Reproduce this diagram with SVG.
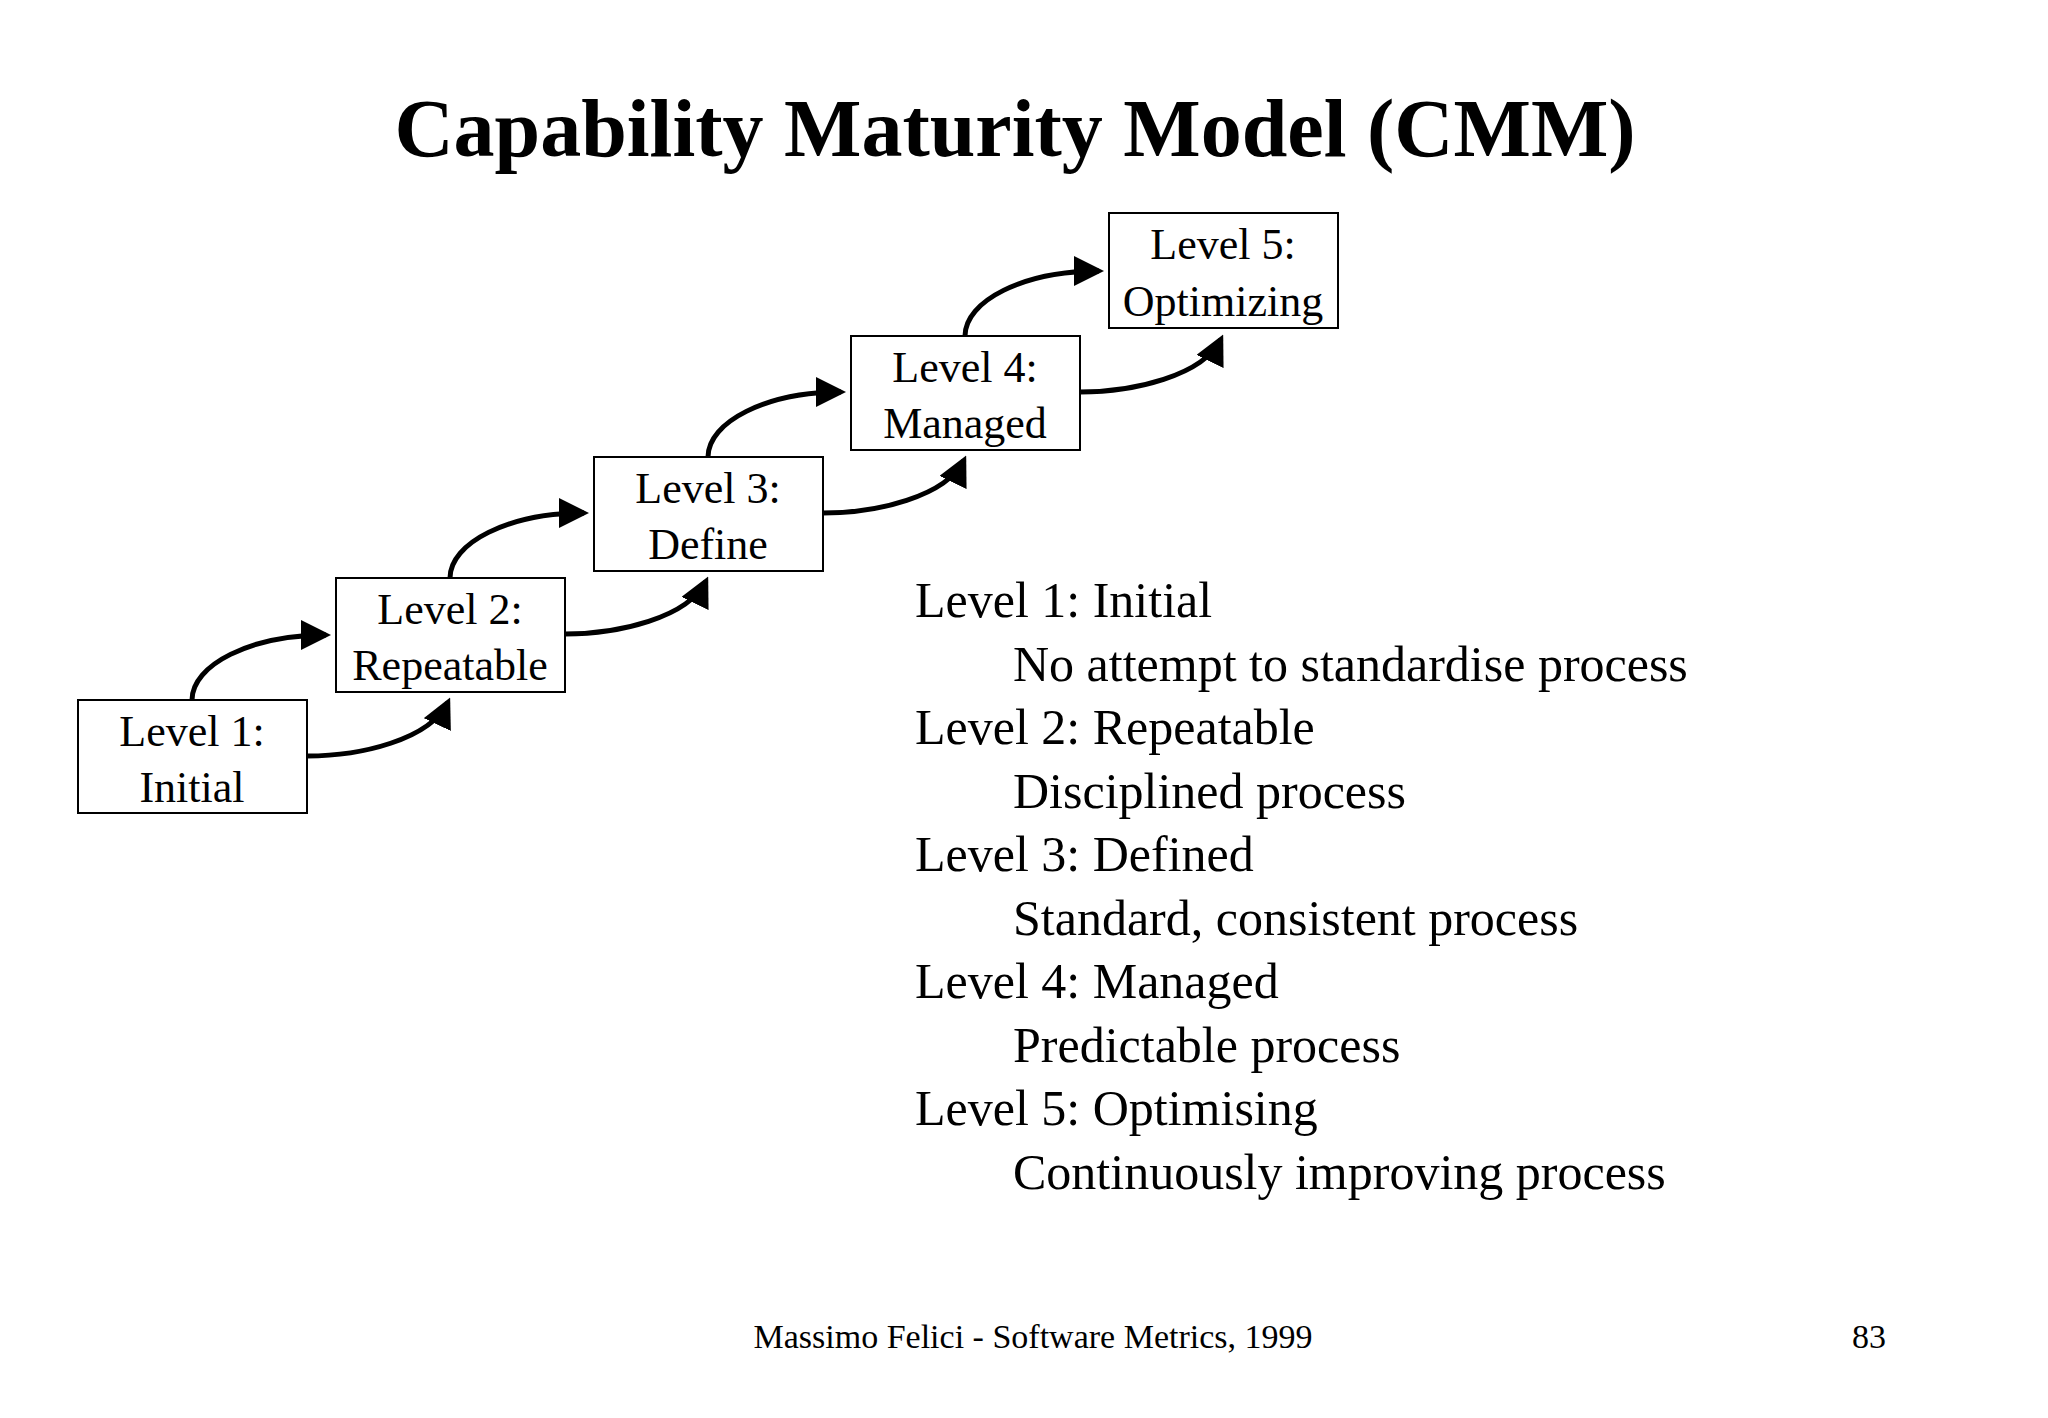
<svg xmlns="http://www.w3.org/2000/svg" width="2048" height="1418" viewBox="0 0 2048 1418">
<style>
text{font-family:"Liberation Serif","Times New Roman",serif;fill:#000}
.box{fill:#fff;stroke:#000;stroke-width:2}
.bt{font-size:44px;text-anchor:middle}
.li{font-size:50px}
.arr{fill:none;stroke:#000;stroke-width:5;marker-end:url(#ah)}
</style>
<defs><marker id="ah" markerWidth="6" markerHeight="6" refX="5" refY="3" orient="auto" markerUnits="strokeWidth"><path d="M0,0 L6,3 L0,6 z" fill="#000"/></marker></defs>
<rect width="2048" height="1418" fill="#fff"/>
<text x="1015" y="156" font-size="82" font-weight="bold" text-anchor="middle">Capability Maturity Model (CMM)</text>
<g id="connectors">
<path class="arr" d="M192 700 C192 665 250 635 326 635"/>
<path class="arr" d="M307 756 C360 756 430 740 448 702"/>
<path class="arr" d="M450 578 C450 543 508 513 584 513"/>
<path class="arr" d="M565 634 C618 634 688 618 706 581"/>
<path class="arr" d="M708 457 C708 422 766 392 841 392"/>
<path class="arr" d="M823 513 C876 513 946 497 964 460"/>
<path class="arr" d="M965 336 C965 301 1023 271 1099 271"/>
<path class="arr" d="M1080 392 C1133 392 1203 376 1221 339"/>
</g>
<g id="n1"><rect class="box" x="78" y="700" width="229" height="113"/><text class="bt" x="192" y="746">Level 1:</text><text class="bt" x="192" y="802">Initial</text></g>
<g id="n2"><rect class="box" x="336" y="578" width="229" height="114"/><text class="bt" x="450" y="624">Level 2:</text><text class="bt" x="450" y="680">Repeatable</text></g>
<g id="n3"><rect class="box" x="594" y="457" width="229" height="114"/><text class="bt" x="708" y="503">Level 3:</text><text class="bt" x="708" y="559">Define</text></g>
<g id="n4"><rect class="box" x="851" y="336" width="229" height="114"/><text class="bt" x="965" y="382">Level 4:</text><text class="bt" x="965" y="438">Managed</text></g>
<g id="n5"><rect class="box" x="1109" y="213" width="229" height="115"/><text class="bt" x="1223" y="259">Level 5:</text><text class="bt" x="1223" y="316">Optimizing</text></g>
<g id="legend" class="li">
<text class="li" x="915" y="617">Level 1: Initial</text>
<text class="li" x="1013" y="681">No attempt to standardise process</text>
<text class="li" x="915" y="744">Level 2: Repeatable</text>
<text class="li" x="1013" y="808">Disciplined process</text>
<text class="li" x="915" y="871">Level 3: Defined</text>
<text class="li" x="1013" y="935">Standard, consistent process</text>
<text class="li" x="915" y="998">Level 4: Managed</text>
<text class="li" x="1013" y="1062">Predictable process</text>
<text class="li" x="915" y="1125">Level 5: Optimising</text>
<text class="li" x="1013" y="1189">Continuously improving process</text>
</g>
<text x="1033" y="1348" font-size="34" text-anchor="middle">Massimo Felici - Software Metrics, 1999</text>
<text x="1869" y="1348" font-size="34" text-anchor="middle">83</text>
</svg>
